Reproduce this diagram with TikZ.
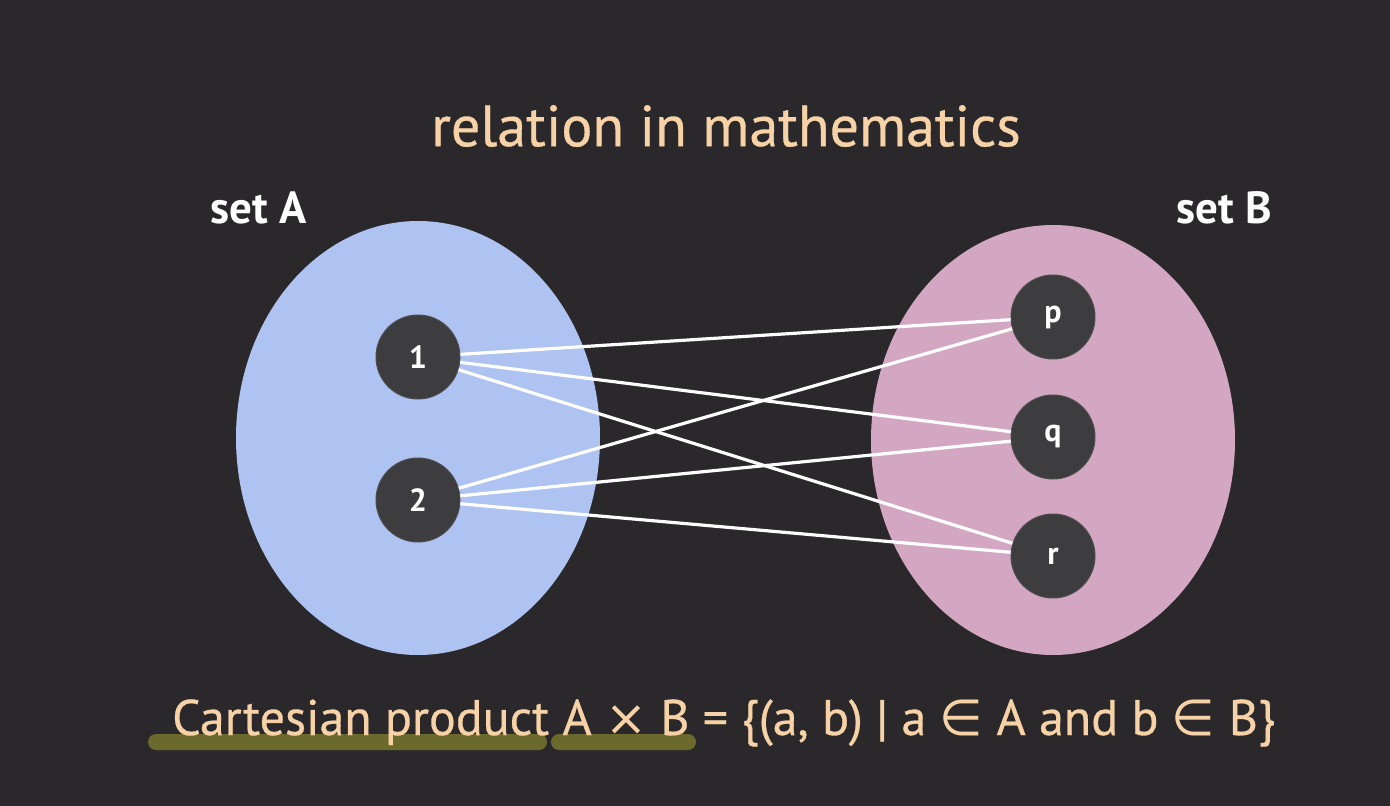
\documentclass[tikz,border=0pt]{standalone}
\usepackage{fontspec}
\setmainfont{PT Sans}
\newfontfamily\symfont{DejaVu Sans}
\newfontfamily\medfont[FakeBold=0.6]{PT Sans}
\definecolor{bg}{HTML}{2A282A}
\definecolor{setA}{HTML}{AEC3F2}
\definecolor{setB}{HTML}{D3A7C2}
\definecolor{elem}{HTML}{3D3C3E}
\definecolor{peach}{HTML}{F6D2A6}
\definecolor{olive}{HTML}{6B6A2C}
\tikzset{
  elemnode/.style={circle, fill=elem, draw=black!70, line width=1pt, minimum size=84pt, inner sep=0pt, text=white, font=\fontsize{32}{32}\selectfont\bfseries},
  link/.style={white, line width=3.2pt},
  setlabel/.style={text=white, font=\fontsize{45}{45}\selectfont\bfseries},
}
\begin{document}
\begin{tikzpicture}[x=1pt,y=-1pt]
\fill[bg] (0,0) rectangle (1390,806);
\useasboundingbox (0,0) rectangle (1390,806);
\fill[setA] (418,438) ellipse [x radius=182, y radius=217];
\fill[setB] (1053,440) ellipse [x radius=182, y radius=215];
\node[text=peach, font=\fontsize{58}{58}\selectfont\medfont] (title) at (726,126) {relation in mathematics};
\node[setlabel] (la) at (259,208) {set A};
\node[setlabel] (lb) at (1224,208) {set B};
\node[elemnode] (n1) at (418,357) {1};
\node[elemnode] (n2) at (418,500) {2};
\node[elemnode] (p) at (1053,317) {p};
\node[elemnode] (q) at (1053,437) {q};
\node[elemnode] (r) at (1053,556) {r};
\draw[link] (n1) -- (p);
\draw[link] (n1) -- (q);
\draw[link] (n1) -- (r);
\draw[link] (n2) -- (p);
\draw[link] (n2) -- (q);
\draw[link] (n2) -- (r);
\fill[olive, rounded corners=8pt] (148,734) rectangle (547,750);
\fill[olive, rounded corners=8pt] (551,734) rectangle (696,750);
\node[text=peach, font=\fontsize{50}{50}\selectfont\medfont, anchor=base west, inner sep=0pt] (cp) at (172,735)
  {Cartesian product A {\symfont×} B = \{(a, b) | a {\symfont∈} A and b {\symfont∈} B\}};
\end{tikzpicture}
\end{document}
